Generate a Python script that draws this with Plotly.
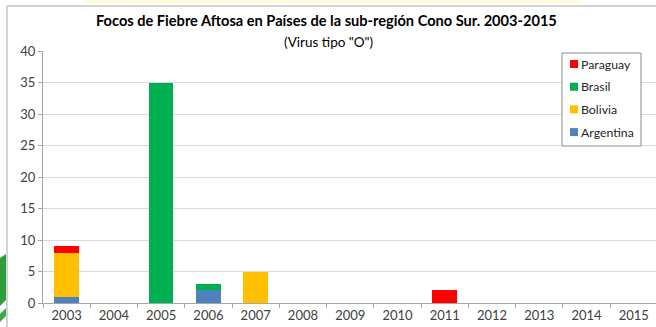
import plotly.graph_objects as go

# Foot-and-mouth disease outbreaks (virus type "O"), Southern Cone sub-region
years = ["2003", "2004", "2005", "2006", "2007", "2008", "2009",
         "2010", "2011", "2012", "2013", "2014", "2015"]
argentina = [1, 0, 0, 2, 0, 0, 0, 0, 0, 0, 0, 0, 0]
bolivia = [7, 0, 0, 0, 5, 0, 0, 0, 0, 0, 0, 0, 0]
brasil = [0, 0, 35, 1, 0, 0, 0, 0, 0, 0, 0, 0, 0]
paraguay = [1, 0, 0, 0, 0, 0, 0, 0, 2, 0, 0, 0, 0]
y_ticks = [0, 5, 10, 15, 20, 25, 30, 35, 40]

# stacking order bottom -> top
series = [
    ("Argentina", argentina, "#4F81BD"),
    ("Bolivia", bolivia, "#FFC000"),
    ("Brasil", brasil, "#00B050"),
    ("Paraguay", paraguay, "#FF0000"),
]

FONT = "Lato, 'Open Sans', sans-serif"

fig = go.Figure()
for name, vals, color in series:
    fig.add_trace(go.Bar(
        x=years, y=vals, name=name, showlegend=False,
        marker=dict(color=color, line=dict(width=0)),
    ))

# pixel geometry of the plot area
W, H = 656, 327
L, R, T, B = 43, 656, 51, 303


def px(x):
    return (x - L) / (R - L)


def py(y):
    return (B - y) / (B - T)


shapes = [
    # pale banner along the top edge
    dict(type="rect", xref="paper", yref="paper",
         x0=px(85), x1=px(580), y0=py(3), y1=py(-2),
         fillcolor="#FFFBD6", line=dict(width=0), layer="below"),
    # chart frame
    dict(type="line", xref="paper", yref="paper",
         x0=px(7), x1=px(660), y0=py(6), y1=py(6),
         line=dict(color="#A6A6A6", width=1)),
    dict(type="line", xref="paper", yref="paper",
         x0=px(7), x1=px(7), y0=py(6), y1=py(330),
         line=dict(color="#A6A6A6", width=1)),
    # green ornament at the lower-left edge
    dict(type="path", xref="paper", yref="paper",
         path=f"M {px(0)},{py(258)} L {px(6)},{py(254)} L {px(6)},{py(300)} "
              f"L {px(0)},{py(306)} Z",
         fillcolor="#2E9E3A", line=dict(width=0)),
    dict(type="path", xref="paper", yref="paper",
         path=f"M {px(0)},{py(314)} L {px(6)},{py(308)} L {px(6)},{py(316)} "
              f"L {px(0)},{py(322)} Z",
         fillcolor="#3DAA45", line=dict(width=0)),
    # legend box
    dict(type="rect", xref="paper", yref="paper",
         x0=px(562), x1=px(641), y0=py(146), y1=py(53),
         fillcolor="white", line=dict(color="#8C8C8C", width=1)),
]

annotations = [
    dict(text="<b>Focos de Fiebre Aftosa en Países de la sub-región Cono Sur. 2003-2015</b>",
         xref="paper", yref="paper", x=px(326), y=py(21),
         showarrow=False, xanchor="center", yanchor="middle",
         font=dict(family=FONT, size=14.6, color="#000000")),
    dict(text='(Virus tipo "O")',
         xref="paper", yref="paper", x=px(328), y=py(42),
         showarrow=False, xanchor="center", yanchor="middle",
         font=dict(family=FONT, size=13.5, color="#000000")),
]

# legend entries, top entry = top of the stack
for i, (name, _, color) in enumerate(reversed(series)):
    yc = 64 + i * 22.7
    shapes.append(dict(type="rect", xref="paper", yref="paper",
                       x0=px(570), x1=px(578), y0=py(yc + 4), y1=py(yc - 4),
                       fillcolor=color, line=dict(width=0)))
    annotations.append(dict(text=name, xref="paper", yref="paper",
                            x=px(579), y=py(yc), showarrow=False,
                            xanchor="left", yanchor="middle",
                            font=dict(family=FONT, size=12.3, color="#262626")))

fig.update_layout(
    width=W, height=H,
    margin=dict(l=L, r=W - R, t=T, b=H - B),
    barmode="stack",
    bargap=0.48,
    plot_bgcolor="white",
    paper_bgcolor="white",
    font=dict(family=FONT, size=12, color="#595959"),
    showlegend=False,
    xaxis=dict(
        type="category",
        range=[-0.5, 12.47],
        tickson="boundaries",
        ticks="outside",
        ticklen=4,
        tickcolor="#A6A6A6",
        showline=True,
        linecolor="#A6A6A6",
        linewidth=1,
        showgrid=False,
        tickfont=dict(family=FONT, size=13, color="#404040"),
    ),
    yaxis=dict(
        range=[0, 40],
        tickvals=y_ticks,
        ticks="outside",
        ticklen=4,
        tickcolor="#A6A6A6",
        showline=True,
        linecolor="#A6A6A6",
        linewidth=1,
        gridcolor="#D9D9D9",
        gridwidth=1,
        zeroline=False,
        tickfont=dict(family=FONT, size=13, color="#404040"),
    ),
    annotations=annotations,
    shapes=shapes,
)

fig.write_html("out.html")
